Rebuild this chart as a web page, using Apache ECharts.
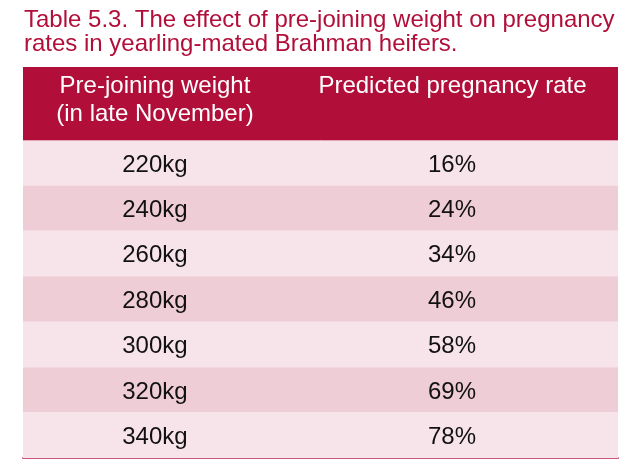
<!DOCTYPE html>
<html>
<head>
<meta charset="utf-8">
<script src="https://cdn.jsdelivr.net/npm/echarts@6/dist/echarts.min.js"></script>
<style>
html,body{margin:0;padding:0;background:#fff;}
#chart{width:631px;height:473px;}
</style>
</head>
<body>
<div id="chart"></div>
<script>
// ---- data ----
const titleLines = ['Table 5.3. The effect of pre-joining weight on pregnancy', 'rates in yearling-mated Brahman heifers.'];
const headerWeight = ['Pre-joining weight', '(in late November)'];
const headerRate = ['Predicted pregnancy rate'];
const weights = ['220kg', '240kg', '260kg', '280kg', '300kg', '320kg', '340kg'];
const rates = [16, 24, 34, 46, 58, 69, 78];

// ---- style ----
const FONT = "'Liberation Sans', Arial, Helvetica, sans-serif";
const CRIMSON = '#b10f3a';
const ROW_LIGHT = '#f7e4ea';
const ROW_DARK = '#efcdd6';
const COL1_CENTER = 0.2218; // fraction of table width
const COL2_CENTER = 0.721;

const chart = echarts.init(document.getElementById('chart'), null, {renderer: 'canvas'});

const rowData = weights.map((w, i) => [0, w, rates[i] + '%', i]);

chart.setOption({
  animation: false,
  backgroundColor: '#ffffff',
  title: {
    text: titleLines.join('\n'),
    left: 24,
    top: 8.7,
    padding: 0,
    textStyle: {
      fontFamily: FONT,
      fontSize: 24,
      fontWeight: 'normal',
      lineHeight: 24,
      color: CRIMSON
    }
  },
  grid: {left: 23, right: 13, top: 140, bottom: 15},
  xAxis: {
    type: 'value', min: 0, max: 1, position: 'bottom',
    axisLine: {show: true, onZero: false, lineStyle: {color: '#c9587a', width: 2}},
    axisTick: {show: false}, axisLabel: {show: false}, splitLine: {show: false}
  },
  yAxis: {
    type: 'category', data: weights, inverse: true,
    axisLine: {show: false}, axisTick: {show: false}, axisLabel: {show: false}, splitLine: {show: false}
  },
  graphic: [
    {type: 'rect', shape: {x: 23, y: 67, width: 595, height: 73}, style: {fill: CRIMSON}, z: 10},
    {type: 'text', x: 155, y: 86.4, style: {text: headerWeight[0], fill: '#fff', font: '24px ' + FONT, textAlign: 'center', textVerticalAlign: 'middle'}, z: 11},
    {type: 'text', x: 155, y: 114.7, style: {text: headerWeight[1], fill: '#fff', font: '24px ' + FONT, textAlign: 'center', textVerticalAlign: 'middle'}, z: 11},
    {type: 'text', x: 452.5, y: 86.4, style: {text: headerRate[0], fill: '#fff', font: '24px ' + FONT, textAlign: 'center', textVerticalAlign: 'middle'}, z: 11}
  ],
  series: [{
    type: 'custom',
    data: rowData,
    encode: {x: 0, y: 1},
    renderItem: function (params, api) {
      const cat = api.value(1);
      const idx = api.value(3);
      const left = api.coord([0, cat]);
      const right = api.coord([1, cat]);
      const h = api.size([0, 1])[1];
      const cy = left[1];
      const c1 = api.coord([COL1_CENTER, cat])[0];
      const c2 = api.coord([COL2_CENTER, cat])[0];
      const children = [
        {type: 'rect', shape: {x: left[0], y: cy - h / 2, width: right[0] - left[0], height: h},
         style: {fill: idx % 2 === 0 ? ROW_LIGHT : ROW_DARK}},
        {type: 'text', x: c1, y: cy + 2.3, style: {text: weights[idx], fill: '#111', font: '24px ' + FONT, textAlign: 'center', textVerticalAlign: 'middle'}},
        {type: 'text', x: c2, y: cy + 2.3, style: {text: rates[idx] + '%', fill: '#111', font: '24px ' + FONT, textAlign: 'center', textVerticalAlign: 'middle'}}
      ];
      if (idx === 0) {
        children.push({type: 'line', shape: {x1: left[0], y1: cy - h / 2 + 0.5, x2: right[0], y2: cy - h / 2 + 0.5}, style: {stroke: '#e3a3b6', lineWidth: 1}});
      }
      return {type: 'group', children: children};
    }
  }]
});
</script>
</body>
</html>
